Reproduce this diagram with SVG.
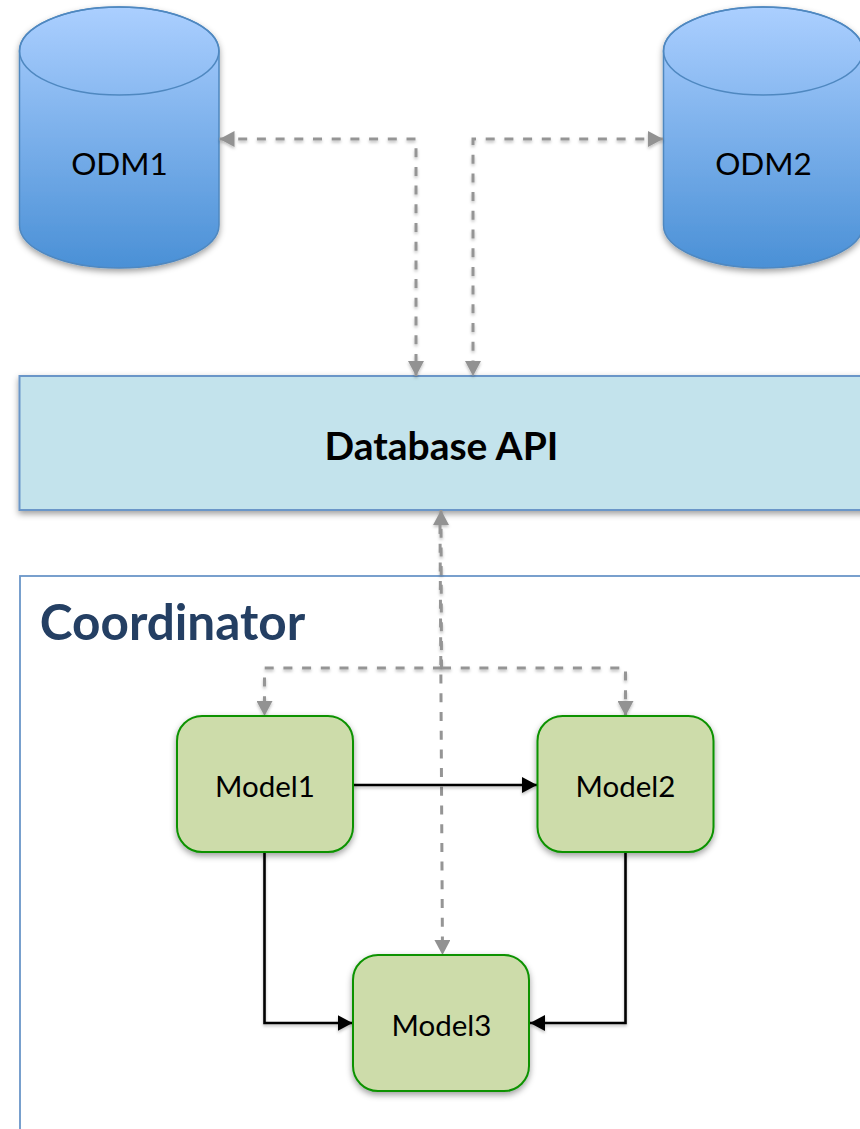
<svg xmlns="http://www.w3.org/2000/svg" width="860" height="1129" viewBox="0 0 860 1129">
<style>
text{font-family:"Lato","Open Sans","Liberation Sans",sans-serif;text-anchor:middle;fill:#000}
.cyl{fill:url(#cg);stroke:#4f88c0;stroke-width:1.5}
.cap{fill:none;stroke:#4f88c0;stroke-width:1.5}
.model{fill:#cddcaa;stroke:#0a9200;stroke-width:2;filter:url(#sh)}
.dash{fill:none;stroke:#959595;stroke-width:3;stroke-dasharray:9 9.7}
.solid{fill:none;stroke:#000;stroke-width:2.6}
.lbl{font-size:31.500px}
.mlbl{font-size:29.500px}
</style>
<defs>
<linearGradient id="cg" x1="0" y1="0" x2="0" y2="1"><stop offset="0" stop-color="#abcfff"/><stop offset="1" stop-color="#4a90d6"/></linearGradient>
<filter id="sh" x="-10%" y="-10%" width="120%" height="125%"><feDropShadow dx="0" dy="3" stdDeviation="3" flood-color="#000" flood-opacity="0.38"/></filter>
<filter id="ls" filterUnits="userSpaceOnUse" x="0" y="0" width="860" height="1129"><feDropShadow dx="0" dy="2" stdDeviation="1.5" flood-color="#000" flood-opacity="0.25"/></filter>
<marker id="ga" markerUnits="userSpaceOnUse" markerWidth="16" markerHeight="16" refX="15" refY="8" orient="auto-start-reverse"><path d="M0 0L15 8L0 16Z" fill="#929292"/></marker>
<marker id="ka" markerUnits="userSpaceOnUse" markerWidth="16" markerHeight="16" refX="15" refY="8" orient="auto"><path d="M0 0L15 8L0 16Z" fill="#000"/></marker>
</defs>
<g id="odm1">
<path class="cyl" filter="url(#sh)" d="M19.5 51V225C19.5 249 64 268 119 268S219 249 219 225V51C219 27 174 7 119 7S19.5 27 19.5 51Z"/>
<ellipse class="cap" cx="119.2" cy="51" rx="99.7" ry="44"/>
<text class="lbl" x="119.500" y="175">ODM1</text>
</g>
<g id="odm2">
<path class="cyl" filter="url(#sh)" d="M663.5 51V225C663.5 249 708 268 763 268S863 249 863 225V51C863 27 818 7 763 7S663.5 27 663.5 51Z"/>
<ellipse class="cap" cx="763.2" cy="51" rx="99.7" ry="44"/>
<text class="lbl" x="763.500" y="175">ODM2</text>
</g>
<g id="database-api">
<rect x="19.5" y="376" width="860" height="134" fill="#c3e3ec" stroke="#6a96c8" stroke-width="2" filter="url(#sh)"/>
<text x="441.500" y="460" font-size="39" font-weight="700">Database API</text>
</g>
<g id="coordinator">
<rect x="20" y="576" width="860" height="600" fill="#fff" stroke="#6a96c8" stroke-width="1.8"/>
<text x="172.500" y="640" font-size="49.500" font-weight="700" style="fill:#243f63">Coordinator</text>
</g>
<g id="connectors">
<path class="dash" filter="url(#ls)" marker-start="url(#ga)" marker-end="url(#ga)" d="M219.5 139H416V376"/>
<path class="dash" filter="url(#ls)" marker-start="url(#ga)" marker-end="url(#ga)" d="M663 139H473V376"/>
<path class="dash" filter="url(#ls)" marker-start="url(#ga)" d="M441 510L441.500 668"/>
<path class="dash" filter="url(#ls)" marker-end="url(#ga)" d="M442 668H264.500V716"/>
<path class="dash" filter="url(#ls)" marker-end="url(#ga)" d="M442 668H625.500V716"/>
<path class="dash" marker-end="url(#ga)" d="M440 525L442.500 955"/>
<path class="solid" filter="url(#ls)" marker-end="url(#ka)" d="M353 785H537"/>
<path class="solid" filter="url(#ls)" marker-end="url(#ka)" d="M264.500 852V1023H352.500"/>
<path class="solid" filter="url(#ls)" marker-end="url(#ka)" d="M625.500 852V1023H530"/>
</g>
<g id="model1"><rect class="model" x="177" y="716" width="176" height="136" rx="25"/><text class="mlbl" x="265" y="797">Model1</text></g>
<g id="model2"><rect class="model" x="537.500" y="716" width="176" height="136" rx="25"/><text class="mlbl" x="625.500" y="797">Model2</text></g>
<g id="model3"><rect class="model" x="353" y="955" width="176" height="136" rx="25"/><text class="mlbl" x="441.500" y="1036">Model3</text></g>
</svg>
